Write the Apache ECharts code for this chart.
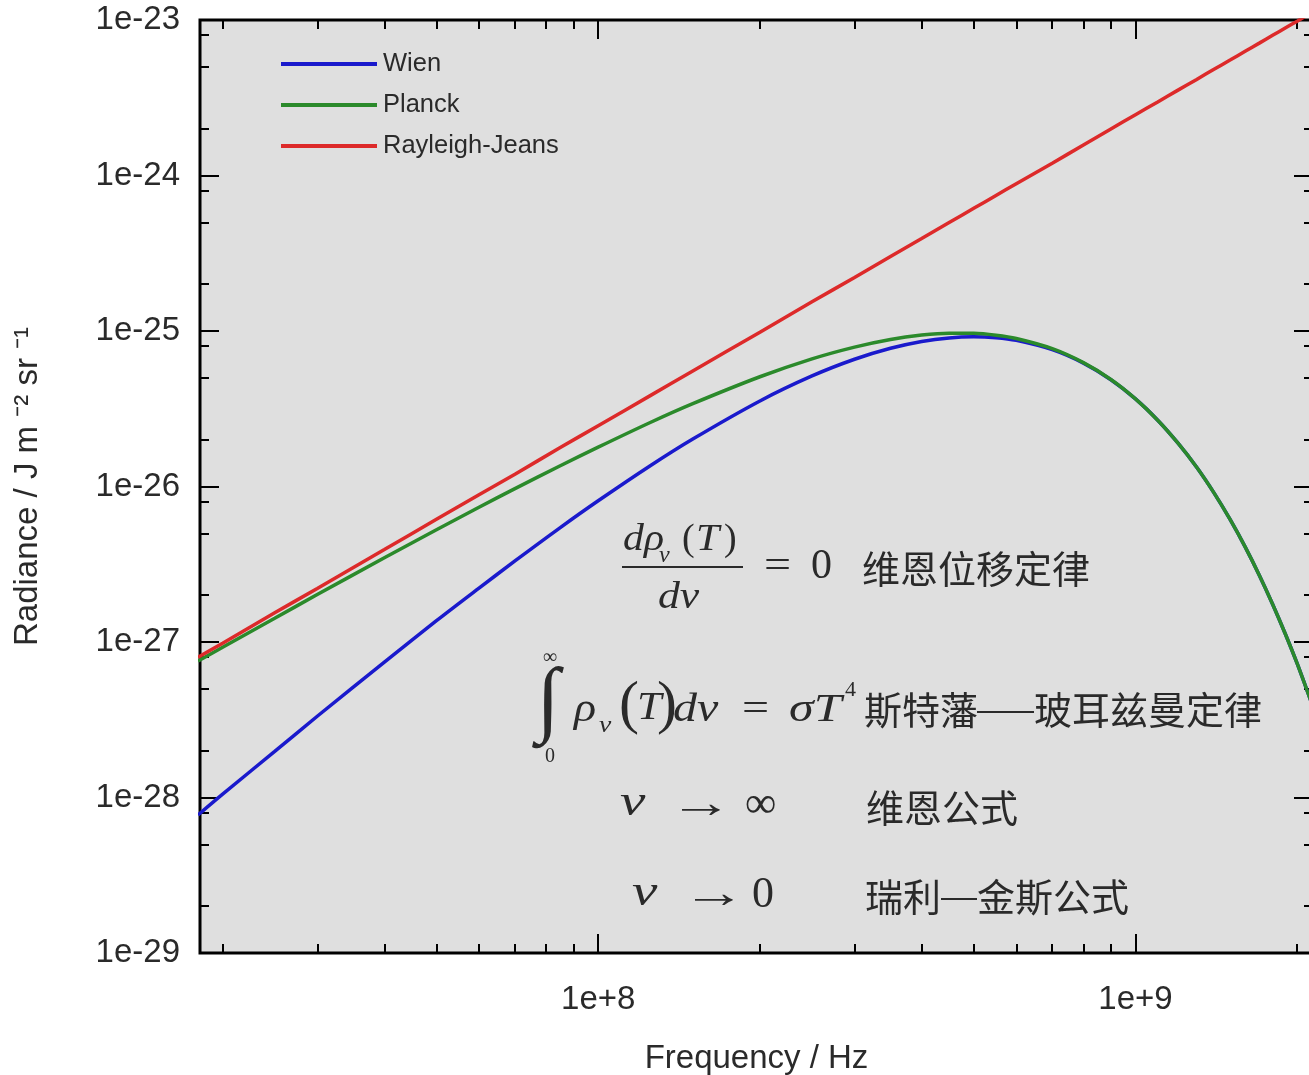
<!DOCTYPE html>
<html><head><meta charset="utf-8">
<script src="https://cdn.jsdelivr.net/npm/echarts@6/dist/echarts.min.js"></script>
<style>html,body{margin:0;padding:0;background:#fff;overflow:hidden}#chart{width:1309px;height:1075px}</style>
</head><body><div id="chart"></div>
<script>
// ---- data (radiance in J m^-2 sr^-1) ----
const frequencies = [1.8e7, 2e7, 2.5e7, 3e7, 4e7, 5e7, 6e7, 7e7, 8.5e7, 1e8, 1.25e8, 1.5e8, 2e8, 2.5e8, 3e8, 3.5e8, 4e8, 4.5e8, 5e8, 5.5e8, 6e8, 7e8, 8e8, 9e8, 1e9, 1.1e9, 1.2e9, 1.3e9, 1.4e9, 1.5e9, 1.6e9, 1.7e9, 1.8e9, 1.9e9, 2e9, 2.15e9];
const wienValues = [7.72e-29, 1.05e-28, 1.98e-28, 3.33e-28, 7.42e-28, 1.37e-27, 2.22e-27, 3.32e-27, 5.44e-27, 8.09e-27, 1.36e-26, 2.02e-26, 3.55e-26, 5.14e-26, 6.58e-26, 7.74e-26, 8.56e-26, 9.03e-26, 9.18e-26, 9.05e-26, 8.70e-26, 7.58e-26, 6.21e-26, 4.86e-26, 3.66e-26, 2.67e-26, 1.90e-26, 1.33e-26, 9.10e-27, 6.14e-27, 4.09e-27, 2.69e-27, 1.75e-27, 1.13e-27, 7.25e-28, 3.66e-28];
const planckValues = [7.54e-28, 9.25e-28, 1.42e-27, 2.02e-27, 3.48e-27, 5.27e-27, 7.35e-27, 9.69e-27, 1.36e-26, 1.79e-26, 2.58e-26, 3.41e-26, 5.08e-26, 6.62e-26, 7.88e-26, 8.82e-26, 9.41e-26, 9.68e-26, 9.66e-26, 9.39e-26, 8.95e-26, 7.70e-26, 6.26e-26, 4.88e-26, 3.66e-26, 2.67e-26, 1.90e-26, 1.33e-26, 9.10e-27, 6.14e-27, 4.09e-27, 2.69e-27, 1.75e-27, 1.13e-27, 7.25e-28, 3.66e-28];
const rayleighJeansValues = [7.97e-28, 9.83e-28, 1.54e-27, 2.21e-27, 3.93e-27, 6.15e-27, 8.85e-27, 1.20e-26, 1.78e-26, 2.46e-26, 3.84e-26, 5.53e-26, 9.83e-26, 1.54e-25, 2.21e-25, 3.01e-25, 3.93e-25, 4.98e-25, 6.15e-25, 7.44e-25, 8.85e-25, 1.20e-24, 1.57e-24, 1.99e-24, 2.46e-24, 2.97e-24, 3.54e-24, 4.15e-24, 4.82e-24, 5.53e-24, 6.29e-24, 7.10e-24, 7.97e-24, 8.88e-24, 9.83e-24, 1.14e-23];
const seriesNames = ['Wien', 'Planck', 'Rayleigh-Jeans'];
const xRange = [1.815e7, 2.14e9];
const yRange = [1e-29, 1e-23];
const xMajorTicks = [1e8, 1e9];
const xMinorTicks = [2e7, 3e7, 4e7, 5e7, 6e7, 7e7, 8e7, 9e7, 2e8, 3e8, 4e8, 5e8, 6e8, 7e8, 8e8, 9e8, 2e9];
const yMajorTicks = [1e-29, 1e-28, 1e-27, 1e-26, 1e-25, 1e-24, 1e-23];
const yMinorTicks = [2e-29, 5e-29, 8e-29, 2e-28, 5e-28, 8e-28, 2e-27, 5e-27, 8e-27, 2e-26, 5e-26, 8e-26, 2e-25, 5e-25, 8e-25, 2e-24, 5e-24, 8e-24];
const xAxisTitle = 'Frequency / Hz';
const yAxisTitle = 'Radiance / J m ⁻² sr ⁻¹';

// ECharts' log axis rounds tick values to 10 decimals, so the y axis works
// in units of 1e-29 J m^-2 sr^-1; labels are written back in the original units.
const Y_UNIT_EXP = -29;
const toUnit = v => +(v * Math.pow(10, -Y_UNIT_EXP)).toPrecision(10);

// ---- chart ----
const colors = ['#1a1acc', '#2b8a2b', '#dd2a2a'];
const SANS = '"Liberation Sans", Arial, sans-serif';
const SERIF = '"Liberation Serif", "DejaVu Serif", serif';
const CJK = '"Noto Sans CJK SC", sans-serif';
const INK = '#2a2a2a';

function expOf(v) { return Math.round(Math.log10(v)); }

function makeAxis(position, range, ticks, len, extra) {
  const ax = {
    type: 'log', logBase: 10, position: position,
    min: range[0], max: range[1],
    axisLine: { show: false, onZero: false },
    splitLine: { show: false },
    minorTick: { show: false },
    axisTick: { show: true, inside: true, length: len, customValues: ticks, lineStyle: { color: '#000', width: 2 } },
    axisLabel: { show: false }
  };
  return Object.assign(ax, extra || {});
}

const yRangeU = yRange.map(toUnit);
const yMajorU = yMajorTicks.map(toUnit);
const yMinorU = yMinorTicks.map(toUnit);

const xAxes = [
  makeAxis('bottom', xRange, xMajorTicks, 19, {
    axisLabel: { show: true, customValues: xMajorTicks, margin: 30, fontSize: 33, fontFamily: SANS, color: INK,
      formatter: v => '1e+' + expOf(v) },
    name: xAxisTitle, nameLocation: 'middle', nameGap: 89,
    nameTextStyle: { fontSize: 33, fontFamily: SANS, color: INK }
  }),
  makeAxis('bottom', xRange, xMinorTicks, 9),
  makeAxis('top', xRange, xMajorTicks, 19),
  makeAxis('top', xRange, xMinorTicks, 9)
];
const yAxes = [
  makeAxis('left', yRangeU, yMajorU, 19, {
    axisLabel: { show: true, customValues: yMajorU, margin: 20, fontSize: 33, fontFamily: SANS, color: INK,
      showMinLabel: true, showMaxLabel: true,
      formatter: v => '1e' + (expOf(v) + Y_UNIT_EXP) },
    name: yAxisTitle, nameLocation: 'middle', nameGap: 156, nameRotate: 90,
    nameTextStyle: { fontSize: 33, fontFamily: SANS, color: INK }
  }),
  makeAxis('left', yRangeU, yMinorU, 9),
  makeAxis('right', yRangeU, yMajorU, 19),
  makeAxis('right', yRangeU, yMinorU, 9)
];

function pairs(vals) { return frequencies.map((f, i) => [f, toUnit(vals[i])]); }
const seriesValues = [wienValues, planckValues, rayleighJeansValues];
const series = seriesNames.map((name, i) => ({
  name: name, type: 'line', xAxisIndex: 0, yAxisIndex: 0,
  data: pairs(seriesValues[i]), showSymbol: false, symbol: 'none',
  smooth: 0.3, clip: true, z: 3 + i,
  lineStyle: { color: colors[i], width: 3.5 }, itemStyle: { color: colors[i] }
}));

// annotation helpers (pixel-placed text, not data marks)
function T(x, y, text, size, family, opts) {
  opts = opts || {};
  return {
    type: 'text', x: x, y: y, z: 100, scaleX: opts.sx || 1,
    style: {
      text: text, fontSize: size, fontFamily: family, fontStyle: opts.italic ? 'italic' : 'normal',
      fill: INK, align: opts.align || 'left', verticalAlign: 'middle',
      textAlign: opts.align || 'left', textVerticalAlign: 'middle'
    }
  };
}
function L(x1, x2, y, w) {
  return { type: 'line', z: 100, shape: { x1: x1, y1: y, x2: x2, y2: y }, style: { stroke: INK, lineWidth: w || 2 } };
}
const graphics = [
  // d rho_nu(T) / d nu = 0  维恩位移定律
  T(623, 540, 'dρ', 38, SERIF, { italic: true, sx: 1.1 }),
  T(659, 556, 'ν', 24, SERIF, { italic: true }),
  T(682, 540, '(', 38, SERIF),
  T(696, 540, 'T', 38, SERIF, { italic: true, sx: 1.1 }),
  T(724, 540, ')', 38, SERIF),
  L(622, 743, 567, 2),
  T(658, 598, 'dν', 38, SERIF, { italic: true, sx: 1.15 }),
  T(764, 567, '=', 40, SERIF, { sx: 1.2 }),
  T(811, 567, '0', 42, SERIF),
  T(862, 569, '维恩位移定律', 38, CJK),
  // integral  ∫ rho_nu(T) d nu = sigma T^4  斯特藩—玻耳兹曼定律
  T(548, 704, '∫', 84, SERIF, { align: 'center' }),
  T(550, 658, '∞', 20, SERIF, { align: 'center' }),
  T(550, 757, '0', 20, SERIF, { align: 'center' }),
  T(574, 710, 'ρ', 40, SERIF, { italic: true, sx: 1.15 }),
  T(599, 726, 'ν', 24, SERIF, { italic: true, sx: 1.15 }),
  T(619, 706, '(', 60, SERIF),
  T(637, 708, 'T', 40, SERIF, { italic: true, sx: 1.1 }),
  T(657, 706, ')', 60, SERIF),
  T(673, 710, 'dν', 40, SERIF, { italic: true, sx: 1.2 }),
  T(742, 710, '=', 40, SERIF, { sx: 1.2 }),
  T(789, 710, 'σT', 40, SERIF, { italic: true, sx: 1.25 }),
  T(845, 690, '4', 22, SERIF),
  T(864, 710, '斯特藩', 38, CJK),
  L(977, 1034, 712, 2),
  T(1034, 710, '玻耳兹曼定律', 38, CJK),
  // nu -> infinity   维恩公式
  T(620, 803, 'ν', 44, SERIF, { italic: true, sx: 1.3 }),
  T(669, 805, '→', 44, SERIF, { sx: 1.45 }),
  T(745, 805, '∞', 44, SERIF),
  T(866, 808, '维恩公式', 38, CJK),
  // nu -> 0   瑞利—金斯公式
  T(632, 893, 'ν', 44, SERIF, { italic: true, sx: 1.3 }),
  T(682, 895, '→', 44, SERIF, { sx: 1.45 }),
  T(752, 895, '0', 44, SERIF),
  T(865, 897, '瑞利', 38, CJK),
  L(941, 977, 899, 2),
  T(977, 897, '金斯公式', 38, CJK)
];

const chart = echarts.init(document.getElementById('chart'), null, { renderer: 'canvas' });
chart.setOption({
  animation: false,
  backgroundColor: '#ffffff',
  grid: { left: 200, top: 20, width: 1113, height: 933, show: true, backgroundColor: '#dfdfdf', borderColor: '#000', borderWidth: 3,
    containLabel: false, outerBoundsMode: 'none' },
  legend: {
    data: seriesNames, orient: 'vertical', left: 276, top: 46,
    itemWidth: 96, itemHeight: 24, itemGap: 15, icon: 'path://M0,10 L96,10 L96,14 L0,14 Z',
    textStyle: { fontSize: 25.5, fontFamily: SANS, color: INK, padding: [0, 0, 0, 1] }
  },
  xAxis: xAxes,
  yAxis: yAxes,
  series: series,
  graphic: { elements: graphics }
});
</script>
</body></html>
